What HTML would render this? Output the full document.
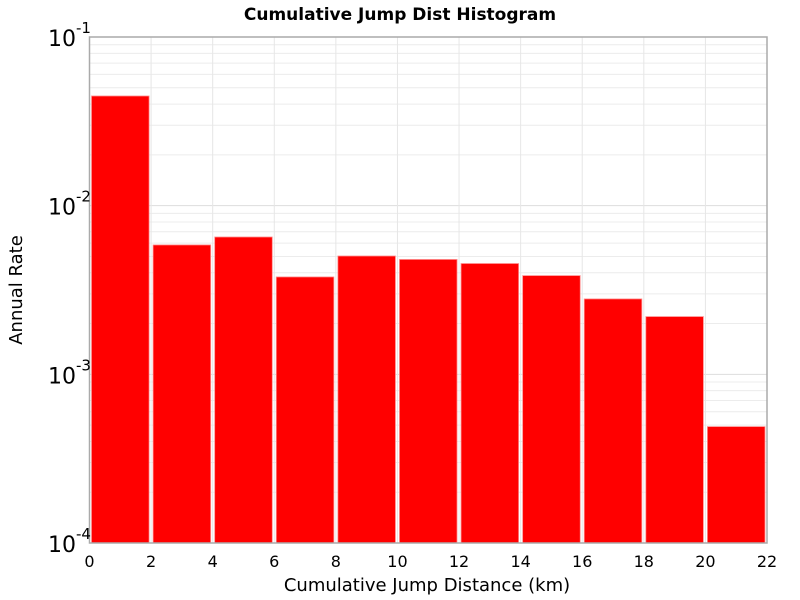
<!DOCTYPE html>
<html><head><meta charset="utf-8"><style>
body{margin:0;background:#fff;}
svg{display:block;font-family:"DejaVu Sans","Liberation Sans",sans-serif;}
</style></head><body>
<svg id="chart" width="800" height="600">
<text x="400" y="20" text-anchor="middle" font-size="17" font-weight="bold">Cumulative Jump Dist Histogram</text>
<g id="grid"></g><g id="bars"></g><g id="axes"></g>
<text x="427" y="591" text-anchor="middle" font-size="18">Cumulative Jump Distance (km)</text>
<text transform="translate(22,290) rotate(-90)" text-anchor="middle" font-size="18">Annual Rate</text>
</svg>
<script>
const binStarts=[0,2,4,6,8,10,12,14,16,18,20];
const rates=[0.0447,0.00585,0.00652,0.00378,0.00503,0.0048,0.00454,0.00385,0.0028,0.0022,0.00049];
const xTicks=[0,2,4,6,8,10,12,14,16,18,20,22];
const yExps=[-1,-2,-3,-4];
const binWidth=2;
const L=89.5,R=767,T=37,B=543;
const xs=v=>L+v*(R-L)/22;
const ys=v=>T+(-1-Math.log10(v))*(B-T)/3;
const NS="http://www.w3.org/2000/svg";
function mk(t,a,p){const e=document.createElementNS(NS,t);for(const k in a)e.setAttribute(k,a[k]);p.appendChild(e);return e;}
const grid=document.getElementById('grid'),bars=document.getElementById('bars'),axes=document.getElementById('axes');
for(let d=-4;d<-1;d++){for(let m=1;m<10;m++){const v=m*Math.pow(10,d);const y=ys(v);
const l=mk('line',{x1:L,x2:R,y1:y,y2:y,stroke:m===1?'#dddddd':'#ececec','stroke-width':1},grid);

}}
xTicks.forEach(t=>{const x=xs(t);const l=mk('line',{x1:x,x2:x,y1:T,y2:B,stroke:'#e6e6e6','stroke-width':1},grid);


const tx=mk('text',{x:x,y:567,'text-anchor':'middle','font-size':16},axes);tx.textContent=t;

});
binStarts.forEach((s,i)=>{const x0=xs(s)+2,x1=xs(s+binWidth)-2,y=ys(rates[i]);
const r=mk('rect',{x:x0,y:y,width:x1-x0,height:B-y,fill:'#ff0000',stroke:'#ff9090','stroke-width':0.8},bars);

});
const f=mk('rect',{x:L,y:T,width:R-L,height:B-T,fill:'none',stroke:'#aaaaaa','stroke-width':1.5},axes);


yExps.forEach(e=>{const y=ys(Math.pow(10,e));const g=mk('text',{x:48,y:y+9,'font-size':22},axes);


g.textContent='10';const sp=mk('tspan',{dy:-13,'font-size':15},g);sp.textContent=e;});
</script>
</body></html>
